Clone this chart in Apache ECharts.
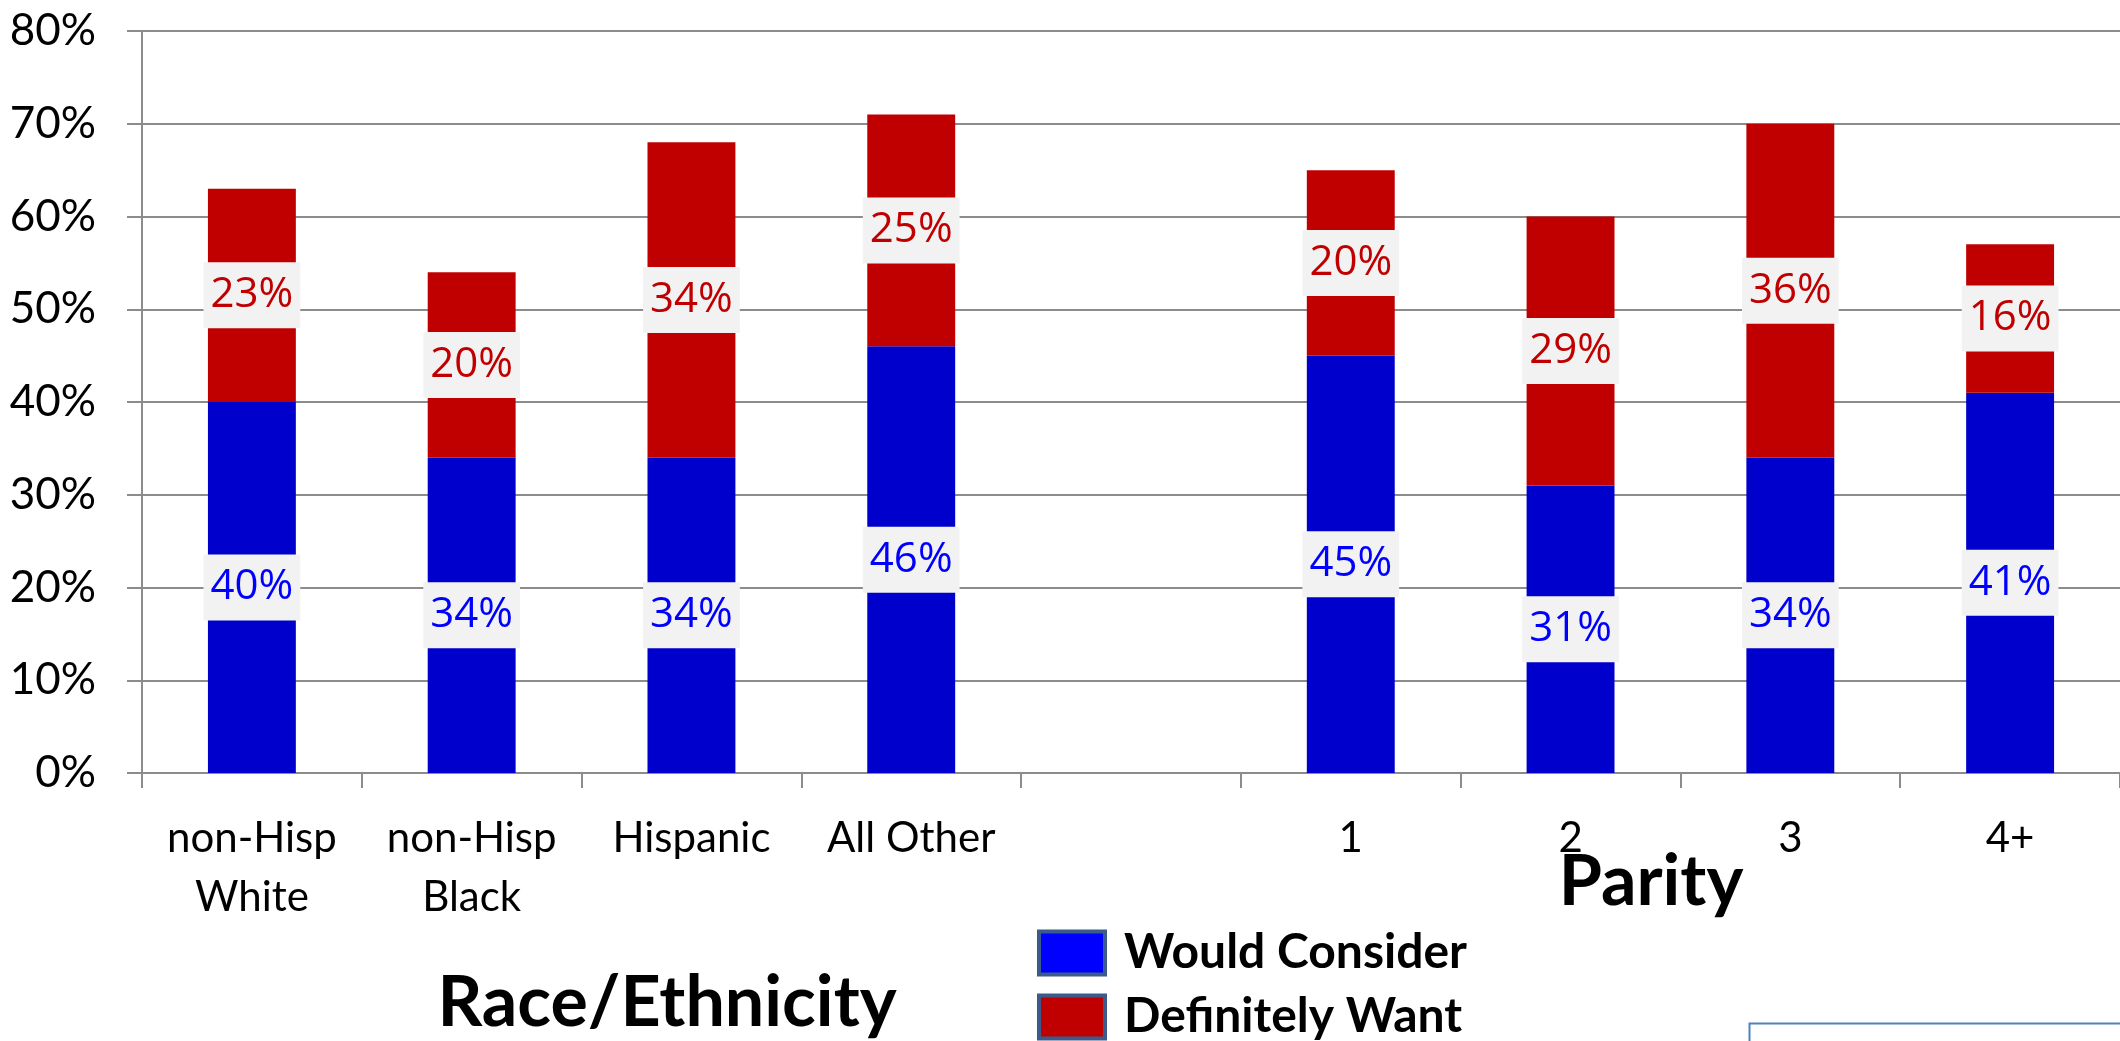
<!DOCTYPE html>
<html>
<head>
<meta charset="utf-8">
<script src="https://cdn.jsdelivr.net/npm/echarts@6/dist/echarts.min.js"></script>
<style>
html,body{margin:0;padding:0;background:#fff;}
#chart{width:2120px;height:1041px;}
</style>
</head>
<body>
<div id="chart"></div>
<script>
const categories = ['non-Hisp\nWhite', 'non-Hisp\nBlack', 'Hispanic', 'All Other', '', '1', '2', '3', '4+'];
const wouldConsider = [40, 34, 34, 46, null, 45, 31, 34, 41];
const definitelyWant = [23, 20, 34, 25, null, 20, 29, 36, 16];
const seriesNames = ['Would Consider', 'Definitely Want'];
const groupTitles = ['Race/Ethnicity', 'Parity'];

const AXIS_FONT = 'Lato, "Open Sans", sans-serif';
const LABEL_FONT = '"Open Sans", Lato, sans-serif';

const chart = echarts.init(document.getElementById('chart'), null, {renderer: 'canvas'});

function dataLabel(color) {
  return {
    show: true,
    position: 'inside',
    formatter: '{c}%',
    color: color,
    fontFamily: LABEL_FONT,
    fontSize: 42,
    lineHeight: 50,
    backgroundColor: '#F2F2F2',
    padding: [8, 7, 8, 7]
  };
}

function legendBox(idx, top, color) {
  return {
    orient: 'vertical',
    left: 1037,
    top: top,
    padding: 0,
    icon: 'rect',
    itemWidth: 66,
    itemHeight: 43,
    textStyle: {fontFamily: AXIS_FONT, fontWeight: 'bold', fontSize: 48, lineHeight: 45, color: '#000', padding: [0, 0, 0, 14]},
    data: [{name: seriesNames[idx], icon: 'rect', itemStyle: {color: color, borderColor: '#3B5B8C', borderWidth: 4}}]
  };
}

chart.setOption({
  backgroundColor: '#ffffff',
  animation: false,
  title: [
    {
      text: groupTitles[0], left: 662, top: 963, textAlign: 'center',
      textStyle: {fontFamily: AXIS_FONT, fontWeight: 'bold', fontSize: 70, color: '#000'}
    },
    {
      text: groupTitles[1], left: 1646, top: 842, textAlign: 'center',
      textStyle: {fontFamily: AXIS_FONT, fontWeight: 'bold', fontSize: 70, color: '#000'}
    }
  ],
  legend: [
    legendBox(0, 929, '#0000FF'),
    legendBox(1, 993, '#C00000')
  ],
  grid: {left: 142, top: 31, width: 1998, height: 742, containLabel: false},
  xAxis: {
    type: 'category',
    data: categories,
    boundaryGap: true,
    axisLine: {show: true, lineStyle: {color: '#8C8C8C', width: 2}},
    axisTick: {show: true, length: 15, alignWithLabel: false, lineStyle: {color: '#8C8C8C', width: 2}},
    axisLabel: {
      interval: 0, margin: 36, color: '#000', fontFamily: AXIS_FONT, fontSize: 42, lineHeight: 59
    },
    splitLine: {show: false}
  },
  yAxis: {
    type: 'value',
    min: 0, max: 80, interval: 10,
    axisLine: {show: true, lineStyle: {color: '#8C8C8C', width: 2}},
    axisTick: {show: true, length: 15, lineStyle: {color: '#8C8C8C', width: 2}},
    axisLabel: {formatter: '{value}%', margin: 46, color: '#000', fontFamily: AXIS_FONT, fontSize: 44},
    splitLine: {show: true, lineStyle: {color: '#8C8C8C', width: 2}}
  },
  series: [
    {
      name: seriesNames[0], type: 'bar', stack: 'total', barWidth: '40%',
      itemStyle: {color: '#0000CC'},
      label: dataLabel('#0000FF'),
      data: wouldConsider
    },
    {
      name: seriesNames[1], type: 'bar', stack: 'total', barWidth: '40%',
      itemStyle: {color: '#C00000'},
      label: dataLabel('#C00000'),
      data: definitelyWant
    }
  ],
  graphic: [
    {
      type: 'rect', left: 1747, top: 1021,
      shape: {width: 420, height: 60},
      style: {fill: 'none', stroke: '#4F81BD', lineWidth: 2}
    }
  ]
});
</script>
</body>
</html>
